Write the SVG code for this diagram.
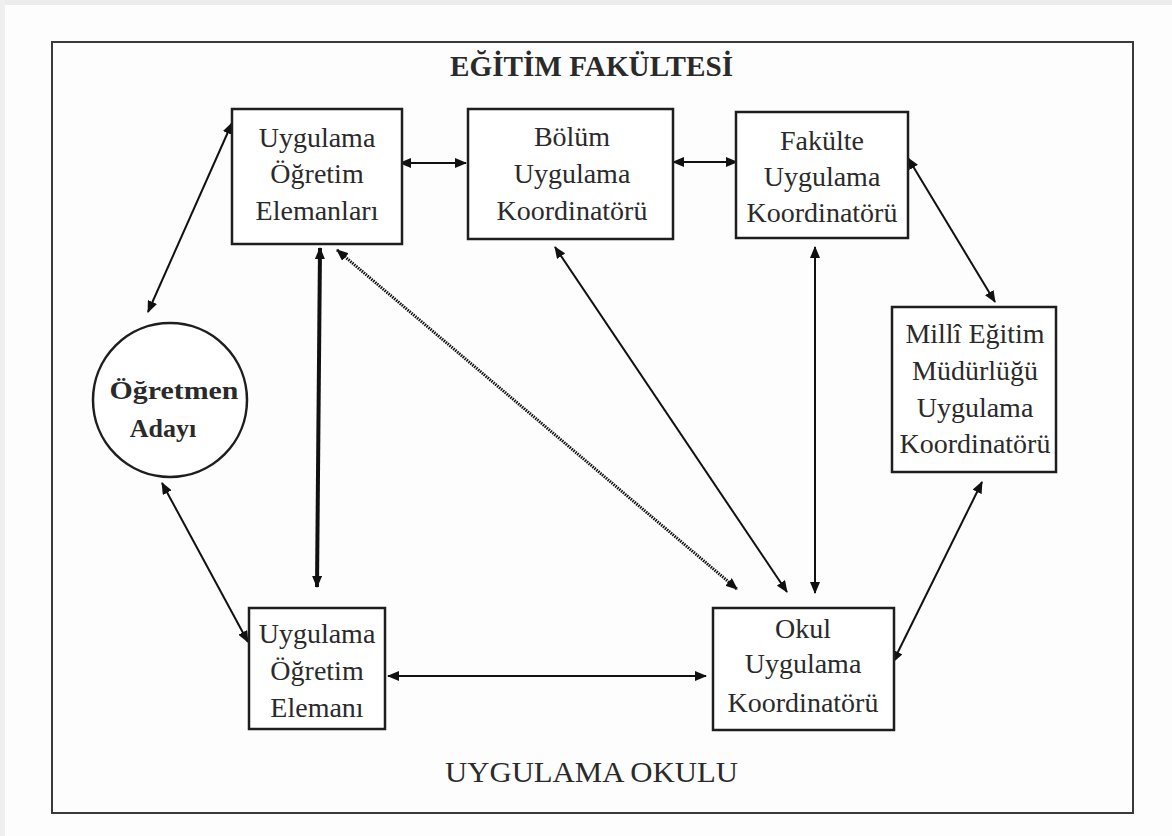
<svg xmlns="http://www.w3.org/2000/svg" width="1172" height="836" viewBox="0 0 1172 836" font-family="'Liberation Serif', 'Times New Roman', serif">
  <defs>
    <style>
      .box { fill: #ffffff; stroke: #1e1e1e; stroke-width: 2.5; }
      .lbl { font-family: 'Liberation Serif', 'Times New Roman', serif; font-size: 28px; fill: #2a2a2a; text-anchor: middle; }
      .bold { font-weight: bold; }
      .con { stroke: #111; stroke-width: 2; fill: none; marker-start: url(#ah); marker-end: url(#ah); }
      .thick { stroke-width: 4; }
      .dot { stroke-width: 3; stroke-dasharray: 1.5 1; }
    </style>
    <marker id="ah" viewBox="0 0 12 10" refX="11" refY="5" markerWidth="12" markerHeight="10" markerUnits="userSpaceOnUse" orient="auto-start-reverse">
      <path d="M0,0 L12,5 L0,10 z" fill="#111"/>
    </marker>
  </defs>

  <rect x="0" y="0" width="1172" height="836" fill="#fdfdfd"/>
  <rect x="0" y="0" width="1172" height="5" fill="#ececec"/>
  <rect x="0" y="0" width="5" height="836" fill="#efefef"/>

  <g id="frame">
    <rect x="52" y="42" width="1081" height="771" fill="none" stroke="#3a3a3a" stroke-width="2"/>
    <text class="lbl bold" font-family="Liberation Serif" x="591.5" y="76" textLength="283" lengthAdjust="spacingAndGlyphs" style="font-size:29px">EĞİTİM FAKÜLTESİ</text>
    <text class="lbl" font-family="Liberation Serif" x="591.5" y="782" textLength="293" lengthAdjust="spacingAndGlyphs" style="font-size:30px">UYGULAMA OKULU</text>
  </g>

  <g id="connectors">
    <line class="con" x1="400" y1="163" x2="466" y2="163"/>
    <line class="con" x1="673" y1="162" x2="737" y2="162"/>
    <line class="con" x1="232" y1="123" x2="148" y2="312"/>
    <line class="con" x1="162" y1="483" x2="248" y2="642"/>
    <line class="con thick" x1="320" y1="248" x2="317" y2="587"/>
    <line class="con dot" x1="337" y1="250" x2="737" y2="589"/>
    <line class="con" x1="555" y1="247" x2="787" y2="592"/>
    <line class="con" x1="815" y1="247" x2="815" y2="593"/>
    <line class="con" x1="908" y1="158" x2="995" y2="302"/>
    <line class="con" x1="982" y1="482" x2="893" y2="662"/>
    <line class="con" x1="388" y1="676" x2="706" y2="676"/>
  </g>

  <g id="node-ogretim-elemanlari" font-family="Liberation Serif">
    <rect class="box" x="232" y="109" width="170" height="135"/>
    <text class="lbl" x="317" y="147">Uygulama</text>
    <text class="lbl" x="317" y="183">Öğretim</text>
    <text class="lbl" x="317" y="220">Elemanları</text>
  </g>

  <g id="node-bolum" font-family="Liberation Serif">
    <rect class="box" x="468" y="109" width="205" height="130"/>
    <text class="lbl" x="572" y="146">Bölüm</text>
    <text class="lbl" x="572" y="183">Uygulama</text>
    <text class="lbl" x="572" y="220">Koordinatörü</text>
  </g>

  <g id="node-fakulte" font-family="Liberation Serif">
    <rect class="box" x="736" y="112" width="172" height="126"/>
    <text class="lbl" x="822" y="150">Fakülte</text>
    <text class="lbl" x="822" y="186">Uygulama</text>
    <text class="lbl" x="822" y="222">Koordinatörü</text>
  </g>

  <g id="node-milli-egitim" font-family="Liberation Serif">
    <rect class="box" x="892" y="307" width="164" height="165"/>
    <text class="lbl" x="975" y="343">Millî Eğitim</text>
    <text class="lbl" x="975" y="380">Müdürlüğü</text>
    <text class="lbl" x="975" y="417">Uygulama</text>
    <text class="lbl" x="975" y="453">Koordinatörü</text>
  </g>

  <g id="node-ogretmen-adayi" font-family="Liberation Serif">
    <circle cx="170" cy="400" r="77" fill="#ffffff" stroke="#1e1e1e" stroke-width="2.5"/>
    <text class="lbl bold" x="174" y="399" textLength="129" lengthAdjust="spacingAndGlyphs" style="font-size:26px">Öğretmen</text>
    <text class="lbl bold" x="163" y="437" style="font-size:26px">Adayı</text>
  </g>

  <g id="node-ogretim-elemani" font-family="Liberation Serif">
    <rect class="box" x="249" y="608" width="136" height="121"/>
    <text class="lbl" x="317" y="643">Uygulama</text>
    <text class="lbl" x="317" y="680">Öğretim</text>
    <text class="lbl" x="317" y="717">Elemanı</text>
  </g>

  <g id="node-okul" font-family="Liberation Serif">
    <rect class="box" x="713" y="608" width="181" height="122"/>
    <text class="lbl" x="803" y="638">Okul</text>
    <text class="lbl" x="803" y="673">Uygulama</text>
    <text class="lbl" x="803" y="712">Koordinatörü</text>
  </g>
</svg>
